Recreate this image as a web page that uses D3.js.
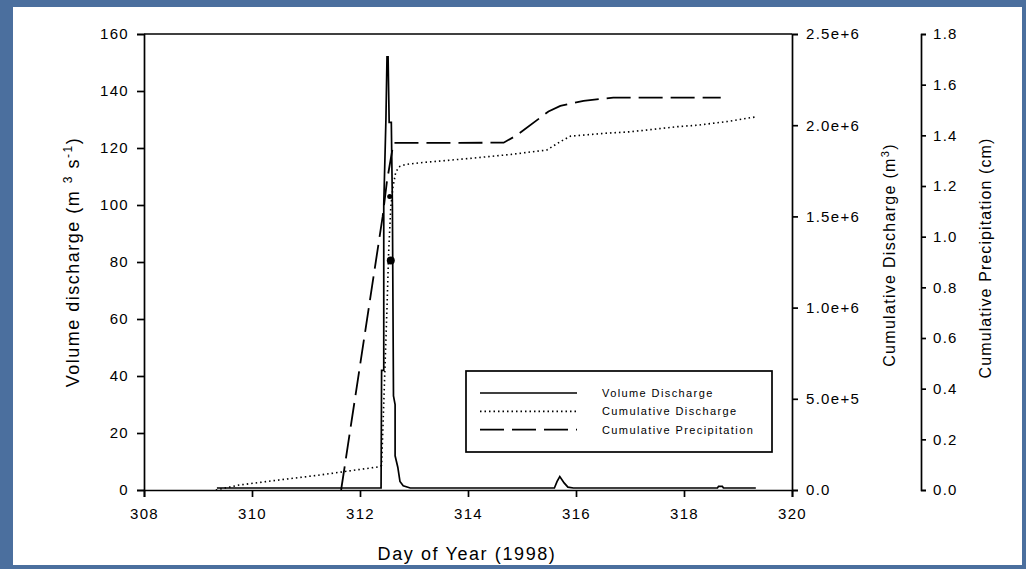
<!DOCTYPE html>
<html>
<head>
<meta charset="utf-8">
<script src="https://cdn.jsdelivr.net/npm/d3@7"></script>
<style>
  html, body { margin: 0; padding: 0; background: #4b6f9e; }
  svg { display: block; font-family: "Liberation Sans", Arial, sans-serif; }
</style>
</head>
<body>
<svg id="chart" width="1026" height="569"></svg>
<script>
// day of year ticks
var dayTicks = [308, 310, 312, 314, 316, 318, 320];
var dischargeTicks = [0, 20, 40, 60, 80, 100, 120, 140, 160];
var cumDisTicks = [0, 500000, 1000000, 1500000, 2000000, 2500000];
var precipTicks = [0, 0.2, 0.4, 0.6, 0.8, 1.0, 1.2, 1.4, 1.6, 1.8];

// volume discharge (m3/s), [day, value]
var volumeDischarge = [
  [309.35, 0.7], [310.5, 0.7], [311.5, 0.7], [312.39, 0.7],
  [312.40, 42], [312.44, 42], [312.44, 100], [312.48, 130], [312.50, 152],
  [312.52, 152], [312.54, 129], [312.58, 129], [312.60, 100], [312.62, 33],
  [312.65, 30], [312.65, 12], [312.70, 8], [312.74, 3], [312.80, 1.5],
  [312.93, 0.7], [315.0, 0.7], [315.6, 0.7], [315.65, 3], [315.70, 4.7],
  [315.78, 2.5], [315.85, 1], [315.95, 0.7], [318.62, 0.7], [318.64, 1.3],
  [318.71, 1.3], [318.73, 0.7], [319.33, 0.7]
];
// odd filled points on the spike
var spikeMarkers = [[312.57, 80.5], [312.55, 103]];

// cumulative discharge (m3)
var cumDischarge = [
  [309.33, 0], [309.76, 27000], [310.5, 55000], [311.2, 80000],
  [311.69, 100000], [312.37, 128000], [312.40, 135000], [312.42, 300000],
  [312.46, 650000], [312.50, 1000000], [312.53, 1300000], [312.57, 1550000],
  [312.61, 1660000], [312.66, 1740000], [312.72, 1772000], [312.85, 1785000],
  [313.11, 1794000], [314.04, 1818000], [314.8, 1840000], [315.46, 1864000],
  [315.71, 1910000], [315.9, 1940000], [316.5, 1955000], [317.01, 1964000],
  [317.88, 1992000], [318.25, 2000000], [318.8, 2020000], [319.36, 2047000]
];

// cumulative precipitation (cm)
var cumPrecip = [
  [311.65, 0], [312.42, 1.08], [312.50, 1.22], [312.62, 1.37],
  [314.66, 1.371], [314.9, 1.40], [315.49, 1.494], [315.71, 1.516],
  [316.14, 1.536], [316.69, 1.549], [318.68, 1.549]
];

var legendItems = [
  {name: "Volume Discharge", dash: null},
  {name: "Cumulative Discharge", dash: "1.5,3"},
  {name: "Cumulative Precipitation", dash: "24,8"}
];

var svg = d3.select("#chart");

// white slide panel
svg.append("rect")
  .attr("x", 13).attr("y", 7)
  .attr("width", 1009).attr("height", 558)
  .attr("fill", "#fff");

var x = d3.scaleLinear().domain([308, 320]).range([144, 792]);
var yVol = d3.scaleLinear().domain([0, 160]).range([490, 34]);
var yCum = d3.scaleLinear().domain([0, 2500000]).range([490, 34]);
var yPre = d3.scaleLinear().domain([0, 1.8]).range([490, 34]);

function styleAxis(g) {
  g.selectAll("path, line").attr("stroke", "#000").attr("stroke-width", 1.7);
  g.selectAll("text")
    .attr("fill", "#000")
    .style("font-size", "15px")
    .style("letter-spacing", "1.3px");
}

svg.append("g")
  .attr("transform", "translate(0,490)")
  .call(d3.axisBottom(x).tickValues(dayTicks).tickFormat(d3.format("d"))
    .tickSize(7).tickPadding(11))
  .call(styleAxis);

svg.append("g")
  .attr("transform", "translate(144,0)")
  .call(d3.axisLeft(yVol).tickValues(dischargeTicks).tickSize(7).tickPadding(8))
  .call(styleAxis);

svg.append("g")
  .attr("transform", "translate(792,0)")
  .call(d3.axisRight(yCum).tickValues(cumDisTicks)
    .tickFormat(function(d) { return d === 0 ? "0.0" : d3.format(".1e")(d); })
    .tickSize(6).tickPadding(8))
  .call(styleAxis);

svg.append("g")
  .attr("transform", "translate(921,0)")
  .call(d3.axisRight(yPre).tickValues(precipTicks).tickFormat(d3.format(".1f"))
    .tickSize(5).tickPadding(7))
  .call(styleAxis);

// top frame
svg.append("line")
  .attr("x1", x(308)).attr("x2", x(320))
  .attr("y1", yVol(160)).attr("y2", yVol(160))
  .attr("stroke", "#000").attr("stroke-width", 1.7);

// series
var lineVol = d3.line().x(function(d) { return x(d[0]); }).y(function(d) { return yVol(d[1]); });
var lineCum = d3.line().x(function(d) { return x(d[0]); }).y(function(d) { return yCum(d[1]); });
var linePre = d3.line().x(function(d) { return x(d[0]); }).y(function(d) { return yPre(d[1]); });

svg.append("path").datum(cumPrecip)
  .attr("d", linePre).attr("fill", "none")
  .attr("stroke", "#000").attr("stroke-width", 1.8)
  .attr("stroke-dasharray", "24,8");

svg.append("path").datum(cumDischarge)
  .attr("d", lineCum).attr("fill", "none")
  .attr("stroke", "#000").attr("stroke-width", 1.6)
  .attr("stroke-dasharray", "1.5,3");

svg.append("path").datum(volumeDischarge)
  .attr("d", lineVol).attr("fill", "none")
  .attr("stroke", "#000").attr("stroke-width", 1.7)
  .attr("stroke-linejoin", "miter");

svg.selectAll("circle.mk").data(spikeMarkers).enter().append("circle")
  .attr("class", "mk")
  .attr("cx", function(d) { return x(d[0]); })
  .attr("cy", function(d) { return yVol(d[1]); })
  .attr("r", function(d, i) { return i === 0 ? 4 : 2.5; })
  .attr("fill", "#000");

// legend
var lg = svg.append("g");
lg.append("rect")
  .attr("x", 466).attr("y", 371).attr("width", 306).attr("height", 81)
  .attr("fill", "#fff").attr("stroke", "#000").attr("stroke-width", 1.7);
legendItems.forEach(function(it, i) {
  var yy = 393 + i * 18.3;
  var ln = lg.append("line")
    .attr("x1", 480).attr("x2", 577).attr("y1", yy).attr("y2", yy)
    .attr("stroke", "#000").attr("stroke-width", 1.7);
  if (it.dash) ln.attr("stroke-dasharray", it.dash);
  lg.append("text")
    .attr("x", 602).attr("y", yy + 4)
    .style("font-size", "11px").style("letter-spacing", "1.4px")
    .text(it.name);
});

// axis titles
svg.append("text")
  .attr("x", 467).attr("y", 560)
  .attr("text-anchor", "middle")
  .style("font-size", "18px").style("letter-spacing", "1.6px")
  .text("Day of Year (1998)");

var tl = svg.append("text")
  .attr("transform", "translate(79,262) rotate(-90)")
  .attr("text-anchor", "middle")
  .style("font-size", "18px").style("letter-spacing", "1.5px");
tl.append("tspan").text("Volume discharge (m ");
tl.append("tspan").attr("dy", -7).style("font-size", "12px").text("3");
tl.append("tspan").attr("dy", 7).text(" s");
tl.append("tspan").attr("dy", -7).style("font-size", "12px").text("-1");
tl.append("tspan").attr("dy", 7).text(")");

var tr = svg.append("text")
  .attr("transform", "translate(895,255) rotate(-90)")
  .attr("text-anchor", "middle")
  .style("font-size", "16px").style("letter-spacing", "1.3px");
tr.append("tspan").text("Cumulative Discharge (m");
tr.append("tspan").attr("dy", -6).style("font-size", "11px").text("3");
tr.append("tspan").attr("dy", 6).text(")");

svg.append("text")
  .attr("transform", "translate(991,258) rotate(-90)")
  .attr("text-anchor", "middle")
  .style("font-size", "16px").style("letter-spacing", "1.1px")
  .text("Cumulative Precipitation (cm)");
</script>
</body>
</html>
